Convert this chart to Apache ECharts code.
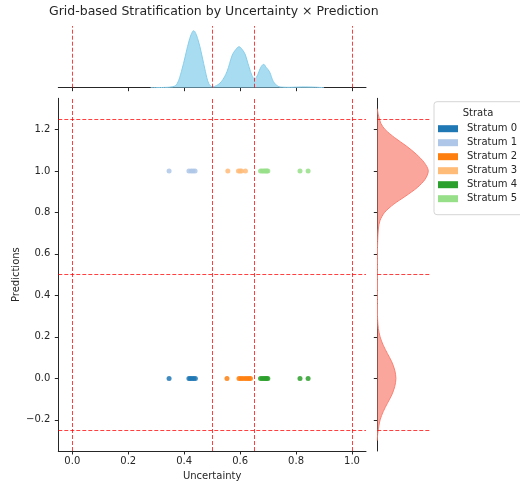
<!DOCTYPE html>
<html>
<head>
<meta charset="utf-8">
<script src="https://cdn.jsdelivr.net/npm/echarts@6/dist/echarts.min.js"></script>
<style>
  html, body { margin: 0; padding: 0; background: #fff; }
  #chart { width: 520px; height: 484px; }
</style>
</head>
<body>
<div id="chart"></div>
<script>
// ---------------- data ----------------
const titleText = 'Grid-based Stratification by Uncertainty \u00d7 Prediction';
const legendTitle = 'Strata';
const xTicks = [0, 0.2, 0.4, 0.6, 0.8, 1.0];
const yTicks = [-0.2, 0, 0.2, 0.4, 0.6, 0.8, 1.0, 1.2];
const uncCuts = [0, 0.5, 0.65, 1.0];
const predCuts = [-0.25, 0.5, 1.25];

const strataNames = ['Stratum 0', 'Stratum 1', 'Stratum 2', 'Stratum 3', 'Stratum 4', 'Stratum 5'];
const s0Unc = [0.346, 0.417, 0.422, 0.428, 0.434, 0.440];
const s0Pred = [0, 0, 0, 0, 0, 0];
const s1Unc = [0.346, 0.417, 0.425, 0.432, 0.439];
const s1Pred = [1, 1, 1, 1, 1];
const s2Unc = [0.553, 0.596, 0.603, 0.610, 0.618, 0.625, 0.632, 0.637];
const s2Pred = [0, 0, 0, 0, 0, 0, 0, 0];
const s3Unc = [0.556, 0.594, 0.600, 0.605, 0.619];
const s3Pred = [1, 1, 1, 1, 1];
const s4Unc = [0.673, 0.679, 0.685, 0.690, 0.695, 0.699, 0.814, 0.843];
const s4Pred = [0, 0, 0, 0, 0, 0, 0, 0];
const s5Unc = [0.673, 0.679, 0.685, 0.690, 0.695, 0.699, 0.814, 0.843];
const s5Pred = [1, 1, 1, 1, 1, 1, 1, 1];

// marginal density of uncertainty (top)
const topKdeX = [0.28,0.33,0.36,0.375,0.39,0.405,0.42,0.434,0.448,0.463,0.476,0.488,0.501,0.515,0.533,0.553,0.572,0.584,0.596,0.608,0.619,0.637,0.652,0.663,0.673,0.684,0.694,0.705,0.719,0.735,0.752,0.78,0.82,0.85,0.90];
const topKdeDensity = [0.00,0.04,0.13,0.53,2.11,4.30,6.49,7.50,6.49,4.30,2.11,0.53,0.13,0.26,0.79,2.11,4.30,5.00,5.39,5.00,4.30,2.11,1.14,1.71,2.63,3.07,2.63,2.11,0.79,0.20,0.07,0.05,0.10,0.09,0.01];

// marginal density of predictions (right)
const rightKdeY = [1.30,1.27,1.23,1.20,1.16,1.12,1.08,1.04,1.00,0.96,0.92,0.88,0.84,0.80,0.76,0.72,0.66,0.60,0.50,0.40,0.32,0.28,0.24,0.20,0.16,0.12,0.08,0.04,0.00,-0.04,-0.08,-0.12,-0.16,-0.20,-0.24,-0.27,-0.30];
const rightKdeDensity = [0,0.06,0.2,0.44,1.0,1.67,2.25,2.7,2.93,2.75,2.3,1.65,0.95,0.42,0.15,0.06,0.02,0.01,0.01,0.01,0.01,0.02,0.06,0.16,0.34,0.58,0.83,1.0,1.07,1.0,0.83,0.58,0.34,0.16,0.07,0.02,0];

// ---------------- style ----------------
const FONT = 'DejaVu Sans';
const INK = '#262626';
const strataColors = ['#1f77b4', '#aec7e8', '#ff7f0e', '#ffbb78', '#2ca02c', '#98df8a'];
const strataUnc = [s0Unc, s1Unc, s2Unc, s3Unc, s4Unc, s5Unc];
const strataPred = [s0Pred, s1Pred, s2Pred, s3Pred, s4Pred, s5Pred];

const fmt = v => (v < 0 ? '\u2212' + Math.abs(v).toFixed(1) : v.toFixed(1));
const cutLine = { color: '#ff0000', opacity: 0.75, width: 1, type: [4, 2] };
const vMark = {
  silent: true, symbol: 'none', label: { show: false },
  lineStyle: cutLine, animation: false,
  data: uncCuts.map(v => ({ xAxis: v }))
};
const hMark = {
  silent: true, symbol: 'none', label: { show: false },
  lineStyle: cutLine, animation: false,
  data: predCuts.map(v => ({ yAxis: v }))
};

const gridBase = { containLabel: false, outerBoundsMode: 'none' };
const MAIN = Object.assign({ left: 58.3, top: 98.3, width: 307.7, height: 352.7 }, gridBase);
const TOP = Object.assign({ left: 58.3, top: 26, width: 307.7, height: 61.7 }, gridBase);
const RIGHT = Object.assign({ left: 377.3, top: 98.3, width: 53.4, height: 352.7 }, gridBase);

const axisLineStyle = { show: true, onZero: false, lineStyle: { color: INK, width: 1 } };
const tickStyle = { show: true, length: 3.5, lineStyle: { color: INK, width: 1 } };

const chart = echarts.init(document.getElementById('chart'), null, { renderer: 'canvas' });

const scatterSeries = strataNames.map((name, k) => ({
  name: name,
  type: 'scatter',
  xAxisIndex: 0, yAxisIndex: 0,
  symbol: 'circle', symbolSize: 5,
  itemStyle: { color: strataColors[k], opacity: 0.85 },
  data: strataUnc[k].map((u, i) => [u, strataPred[k][i]]),
  z: 3
}));
scatterSeries[0].markLine = Object.assign({}, vMark, {
  data: uncCuts.map(v => ({ xAxis: v })).concat(predCuts.map(v => ({ yAxis: v })))
});

const option = {
  animation: false,
  backgroundColor: '#ffffff',
  textStyle: { fontFamily: FONT },
  title: {
    text: titleText, left: 213.8, top: 5.5, textAlign: 'center', padding: 0,
    textStyle: { fontFamily: FONT, fontSize: 12.5, fontWeight: 'normal', color: INK }
  },
  legend: {
    orient: 'vertical', left: 434, top: 101.7,
    padding: [20, 6, 9, 4],
    itemWidth: 20, itemHeight: 7, itemGap: 0,
    icon: 'rect',
    backgroundColor: '#ffffff',
    borderColor: '#d6d6d6', borderWidth: 1, borderRadius: 3,
    itemStyle: { opacity: 1 },
    textStyle: { fontFamily: FONT, fontSize: 10, color: INK, lineHeight: 14, padding: [0, 0, 0, 4] },
    data: strataNames,
    z: 5
  },
  graphic: [{
    type: 'text', x: 478, y: 113.3, z: 100, zlevel: 0, silent: true,
    style: { text: legendTitle, fontFamily: FONT, fontSize: 10, fill: INK, align: 'center', verticalAlign: 'middle' }
  }],
  grid: [MAIN, TOP, RIGHT],
  xAxis: [
    {
      type: 'value', gridIndex: 0, min: -0.05, max: 1.05,
      name: 'Uncertainty', nameLocation: 'middle', nameGap: 20, nameMoveOverlap: false,
      nameTextStyle: { fontFamily: FONT, fontSize: 10, color: INK },
      axisLine: axisLineStyle, axisTick: Object.assign({ customValues: xTicks }, tickStyle),
      axisLabel: { customValues: xTicks, formatter: fmt, margin: 5, fontFamily: FONT, fontSize: 10, color: INK },
      splitLine: { show: false }
    },
    {
      type: 'value', gridIndex: 1, min: -0.05, max: 1.05,
      axisLine: axisLineStyle, axisTick: Object.assign({ customValues: xTicks }, tickStyle),
      axisLabel: { show: false }, splitLine: { show: false }
    },
    {
      type: 'value', gridIndex: 2, min: 0, max: 3.07, show: true,
      axisLine: { show: false }, axisTick: { show: false },
      axisLabel: { show: false }, splitLine: { show: false }
    }
  ],
  yAxis: [
    {
      type: 'value', gridIndex: 0, min: -0.35, max: 1.35,
      name: 'Predictions', nameLocation: 'middle', nameGap: 37, nameRotate: 90, nameMoveOverlap: false,
      nameTextStyle: { fontFamily: FONT, fontSize: 10, color: INK },
      axisLine: axisLineStyle, axisTick: Object.assign({ customValues: yTicks }, tickStyle),
      axisLabel: { customValues: yTicks, formatter: fmt, margin: 8, fontFamily: FONT, fontSize: 10, color: INK },
      splitLine: { show: false }
    },
    {
      type: 'value', gridIndex: 1, min: 0, max: 8.12,
      axisLine: { show: false }, axisTick: { show: false },
      axisLabel: { show: false }, splitLine: { show: false }
    },
    {
      type: 'value', gridIndex: 2, min: -0.35, max: 1.35,
      axisLine: axisLineStyle, axisTick: Object.assign({ customValues: yTicks }, tickStyle),
      axisLabel: { show: false }, splitLine: { show: false }
    }
  ],
  series: scatterSeries.concat([
    {
      name: 'uncertainty density', type: 'line',
      xAxisIndex: 1, yAxisIndex: 1,
      data: topKdeX.map((x, i) => [x, topKdeDensity[i]]),
      showSymbol: false, smooth: 0.35,
      lineStyle: { color: '#87ceeb', width: 1 },
      areaStyle: { color: 'rgba(135,206,235,0.72)', opacity: 1, origin: 'start' },
      markLine: vMark,
      z: 2
    },
    {
      name: 'prediction density fill', type: 'custom',
      xAxisIndex: 2, yAxisIndex: 2, clip: true,
      data: [0],
      renderItem: function (params, api) {
        const pts = rightKdeY.map((y, i) => api.coord([rightKdeDensity[i], y]));
        pts.unshift(api.coord([0, rightKdeY[0]]));
        pts.push(api.coord([0, rightKdeY[rightKdeY.length - 1]]));
        return {
          type: 'polygon',
          shape: { points: pts, smooth: 0.3 },
          style: { fill: 'rgba(250,128,114,0.7)', stroke: null }
        };
      },
      z: 1
    },
    {
      name: 'prediction density', type: 'line',
      xAxisIndex: 2, yAxisIndex: 2,
      data: rightKdeY.map((y, i) => [rightKdeDensity[i], y]),
      showSymbol: false, smooth: 0.3,
      lineStyle: { color: '#fa8072', width: 1 },
      markLine: hMark,
      z: 2
    }
  ])
};

chart.setOption(option);
</script>
</body>
</html>
